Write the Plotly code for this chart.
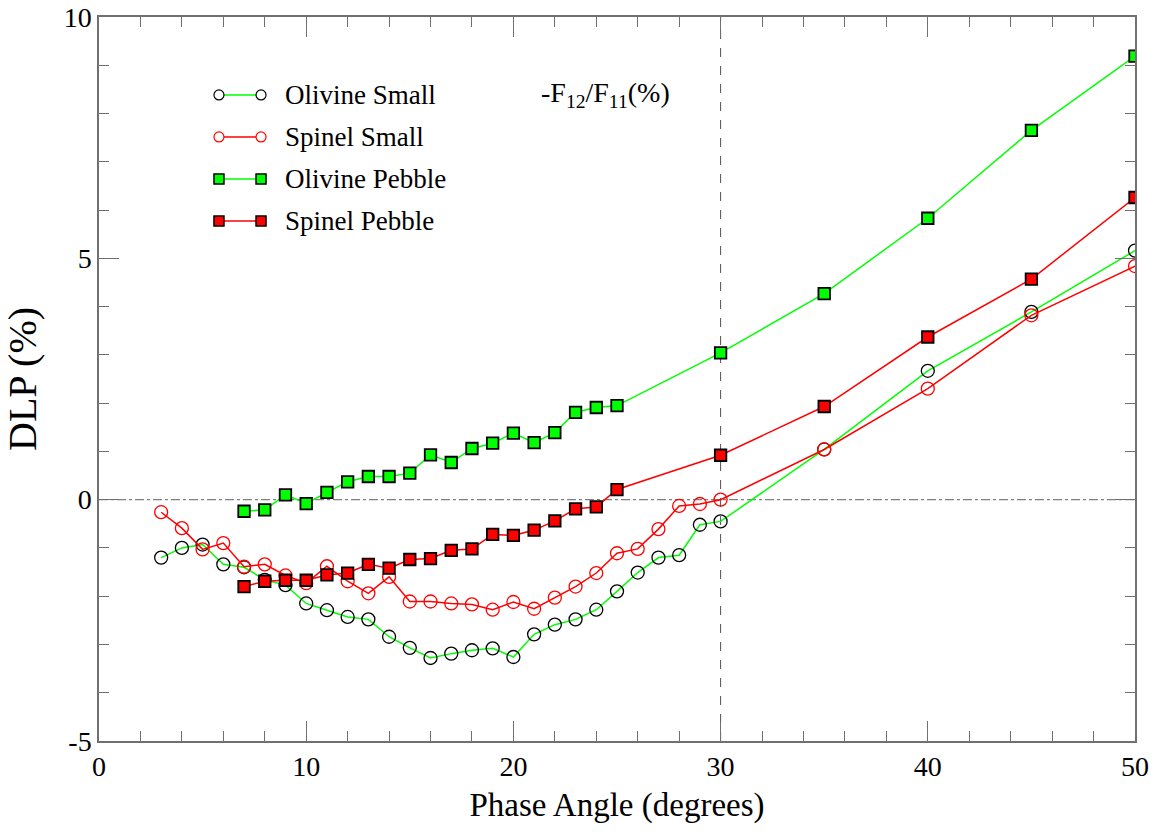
import plotly.graph_objects as go

# ---- data ----
x_small = [3, 4, 5, 6, 7, 8, 9, 10, 11, 12, 13, 14, 15, 16, 17, 18, 19, 20,
           21, 22, 23, 24, 25, 26, 27, 28, 29, 30, 35, 40, 45, 50]
olivine_small = [-1.20, -1.00, -0.93, -1.34, -1.40, -1.66, -1.77, -2.15, -2.29, -2.43,
                 -2.48, -2.84, -3.07, -3.28, -3.19, -3.12, -3.08, -3.26, -2.79, -2.59,
                 -2.48, -2.28, -1.90, -1.51, -1.20, -1.15, -0.52, -0.45, 1.04, 2.67,
                 3.89, 5.16]
spinel_small = [-0.26, -0.59, -1.03, -0.90, -1.39, -1.34, -1.57, -1.73, -1.38, -1.69,
                -1.94, -1.60, -2.11, -2.11, -2.15, -2.17, -2.28, -2.12, -2.26, -2.03,
                -1.80, -1.52, -1.11, -1.02, -0.61, -0.13, -0.09, 0.00, 1.04, 2.30,
                3.82, 4.84]

x_pebble = [7, 8, 9, 10, 11, 12, 13, 14, 15, 16, 17, 18, 19, 20, 21, 22, 23, 24, 25,
            30, 35, 40, 45, 50]
olivine_pebble = [-0.24, -0.21, 0.10, -0.08, 0.15, 0.37, 0.48, 0.48, 0.55, 0.93, 0.77,
                  1.06, 1.17, 1.38, 1.18, 1.39, 1.81, 1.91, 1.95, 3.04, 4.27, 5.83,
                  7.65, 9.19]
spinel_pebble = [-1.80, -1.69, -1.67, -1.67, -1.56, -1.52, -1.34, -1.42, -1.24, -1.22,
                 -1.05, -1.02, -0.72, -0.74, -0.63, -0.44, -0.19, -0.15, 0.21, 0.92,
                 1.93, 3.37, 4.57, 6.26]

series_names = ["Olivine Small", "Spinel Small", "Olivine Pebble", "Spinel Pebble"]
x_ticks = [0, 10, 20, 30, 40, 50]
y_ticks = [-5, 0, 5, 10]

GREEN = "#00ff00"
RED = "#ff0000"
FONT = "Liberation Serif"

# style per series: (line color, marker symbol, marker fill, marker outline)
styles = [
    (GREEN, "circle-open", "black", "black"),
    (RED, "circle-open", RED, RED),
    (GREEN, "square", GREEN, "black"),
    (RED, "square", RED, "black"),
]

fig = go.Figure()
data_sets = [(x_small, olivine_small), (x_small, spinel_small),
             (x_pebble, olivine_pebble), (x_pebble, spinel_pebble)]
for (xs, ys), name, (lc, sym, fill, outline) in zip(data_sets, series_names, styles):
    is_circle = sym.startswith("circle")
    fig.add_trace(go.Scatter(
        x=xs, y=ys, name=name, mode="lines+markers",
        line=dict(color=lc, width=1.5),
        marker=dict(symbol=sym, size=13 if is_circle else 11.5,
                    color=fill, line=dict(color=outline, width=1.3 if is_circle else 1.8)),
        showlegend=False,
    ))

# reference lines
fig.add_shape(type="line", xref="paper", yref="y", x0=0, x1=1, y0=0, y1=0,
              line=dict(color="#808080", width=1.2, dash="dashdot"), layer="below")
fig.add_shape(type="line", xref="x", yref="paper", x0=30, x1=30, y0=0, y1=1,
              line=dict(color="#505050", width=1, dash="dash"), layer="below")

# custom legend (line with a marker at each end)
leg_y = [0.8923, 0.8343, 0.7762, 0.7182]
lx0, lx1, tx = 0.1158, 0.1564, 0.1776
for yy, name, (lc, sym, fill, outline) in zip(leg_y, series_names, styles):
    fig.add_shape(type="line", xref="paper", yref="paper", x0=lx0, x1=lx1, y0=yy, y1=yy,
                  line=dict(color=lc, width=1.5))
    for xa in (lx0, lx1):
        if sym.startswith("circle"):
            fig.add_shape(type="circle", xref="paper", yref="paper",
                          xsizemode="pixel", ysizemode="pixel", xanchor=xa, yanchor=yy,
                          x0=-5, x1=5, y0=-5, y1=5,
                          line=dict(color=outline, width=1.2), fillcolor="white")
        else:
            fig.add_shape(type="rect", xref="paper", yref="paper",
                          xsizemode="pixel", ysizemode="pixel", xanchor=xa, yanchor=yy,
                          x0=-5, x1=5, y0=-5, y1=5,
                          line=dict(color="black", width=1.5), fillcolor=fill)
    fig.add_annotation(x=tx, y=yy, xref="paper", yref="paper", text=name, showarrow=False,
                       xanchor="left", yanchor="middle",
                       font=dict(family=FONT, size=27, color="black"))

fig.add_annotation(x=0.425, y=0.8923, xref="paper", yref="paper",
                   text="-F<sub>12</sub>/F<sub>11</sub>(%)", showarrow=False,
                   xanchor="left", yanchor="middle",
                   font=dict(family=FONT, size=28, color="black"))

axis_common = dict(
    showgrid=False, zeroline=False, showline=True, linecolor="#707070", linewidth=1.5,
    mirror="ticks", ticks="inside", ticklen=20, tickwidth=1.2, tickcolor="#707070",
    tickfont=dict(family=FONT, size=28, color="black"), ticklabeloverflow="allow",
)

fig.update_xaxes(range=[0, 50], tickvals=x_ticks, ticktext=[str(v) for v in x_ticks],
                 minor=dict(ticks="inside", ticklen=10, dtick=2, tickcolor="#707070", tickwidth=1.2),
                 title=dict(text="Phase Angle (degrees)", font=dict(family=FONT, size=33, color="black"),
                            standoff=12),
                 **axis_common)
fig.update_yaxes(range=[-5, 10], tickvals=y_ticks, ticktext=[str(v) for v in y_ticks],
                 minor=dict(ticks="inside", ticklen=10, dtick=1, tickcolor="#707070", tickwidth=1.2),
                 title=dict(text="DLP (%)", font=dict(family=FONT, size=40, color="black"),
                            standoff=16),
                 **axis_common)

fig.update_layout(
    width=1157, height=839,
    margin=dict(l=99, r=22, t=17, b=98, autoexpand=False),
    plot_bgcolor="white", paper_bgcolor="white",
    showlegend=False,
)

fig.write_html(
    "out.html",
    config={"displayModeBar": False},
    post_script="document.body.style.margin='0px';document.body.style.overflow='hidden';",
)
